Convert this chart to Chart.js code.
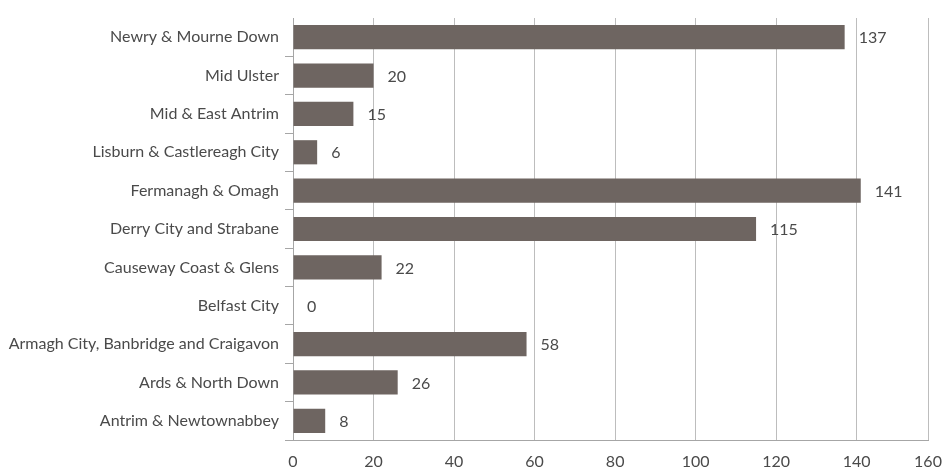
<!DOCTYPE html>
<html>
<head>
<meta charset="utf-8">
<script src="https://cdn.jsdelivr.net/npm/chart.js@4/dist/chart.umd.min.js"></script>
<style>
  html, body { margin: 0; padding: 0; background: #ffffff; }
  #wrap { width: 947px; height: 472px; position: relative; }
</style>
</head>
<body>
<div id="wrap"><canvas id="c"></canvas></div>
<script>
const categories = [
  'Newry & Mourne Down',
  'Mid Ulster',
  'Mid & East Antrim',
  'Lisburn & Castlereagh City',
  'Fermanagh & Omagh',
  'Derry City and Strabane',
  'Causeway Coast & Glens',
  'Belfast City',
  'Armagh City, Banbridge and Craigavon',
  'Ards & North Down',
  'Antrim & Newtownabbey'
];
const values = [137, 20, 15, 6, 141, 115, 22, 0, 58, 26, 8];
const xTickValues = [0, 20, 40, 60, 80, 100, 120, 140, 157.7];
const xTickLabels = ['0', '20', '40', '60', '80', '100', '120', '140', '160'];

const textColor = '#4a4a4a';
const barColor = '#6e6561';

const valueLabels = {
  id: 'valueLabels',
  afterDatasetsDraw(chart) {
    const ctx = chart.ctx;
    const meta = chart.getDatasetMeta(0);
    ctx.save();
    ctx.font = '16px Lato';
    ctx.fillStyle = textColor;
    ctx.textAlign = 'left';
    ctx.textBaseline = 'middle';
    meta.data.forEach((el, i) => {
      ctx.fillText(String(values[i]), el.x + 14, el.y + 1);
    });
    ctx.restore();
  }
};

new Chart(document.getElementById('c'), {
  type: 'bar',
  data: {
    labels: categories,
    datasets: [{
      data: values,
      backgroundColor: barColor,
      borderWidth: 0,
      barPercentage: 0.63,
      categoryPercentage: 1.0
    }]
  },
  options: {
    indexAxis: 'y',
    responsive: true,
    maintainAspectRatio: false,
    animation: false,
    layout: { padding: { top: 18, right: 19, left: 0, bottom: 0 } },
    plugins: { legend: { display: false }, tooltip: { enabled: false } },
    scales: {
      x: {
        min: 0,
        max: 157.7,
        afterBuildTicks(scale) {
          scale.ticks = xTickValues.map(v => ({ value: v }));
        },
        afterFit(scale) {
          scale.height = 32;
          scale.paddingRight = 0;
          scale.paddingLeft = 0;
        },
        grid: {
          color: '#bdbdbd',
          lineWidth: 1,
          drawTicks: false
        },
        border: { display: true, color: '#a6a6a6', width: 1 },
        ticks: {
          padding: 12,
          color: textColor,
          font: { family: 'Lato', size: 16 },
          maxRotation: 0,
          autoSkip: false,
          callback: (v, i) => xTickLabels[i]
        }
      },
      y: {
        afterFit(scale) { scale.width = 293; },
        grid: {
          offset: true,
          drawOnChartArea: false,
          drawTicks: true,
          tickLength: 8,
          color: (ctx) => ctx.index === 0 ? 'rgba(0,0,0,0)' : '#a6a6a6'
        },
        border: { display: true, color: '#a6a6a6', width: 1 },
        ticks: {
          padding: 6,
          color: textColor,
          font: { family: 'Lato', size: 16 },
          autoSkip: false
        }
      }
    }
  },
  plugins: [valueLabels]
});
</script>
</body>
</html>
